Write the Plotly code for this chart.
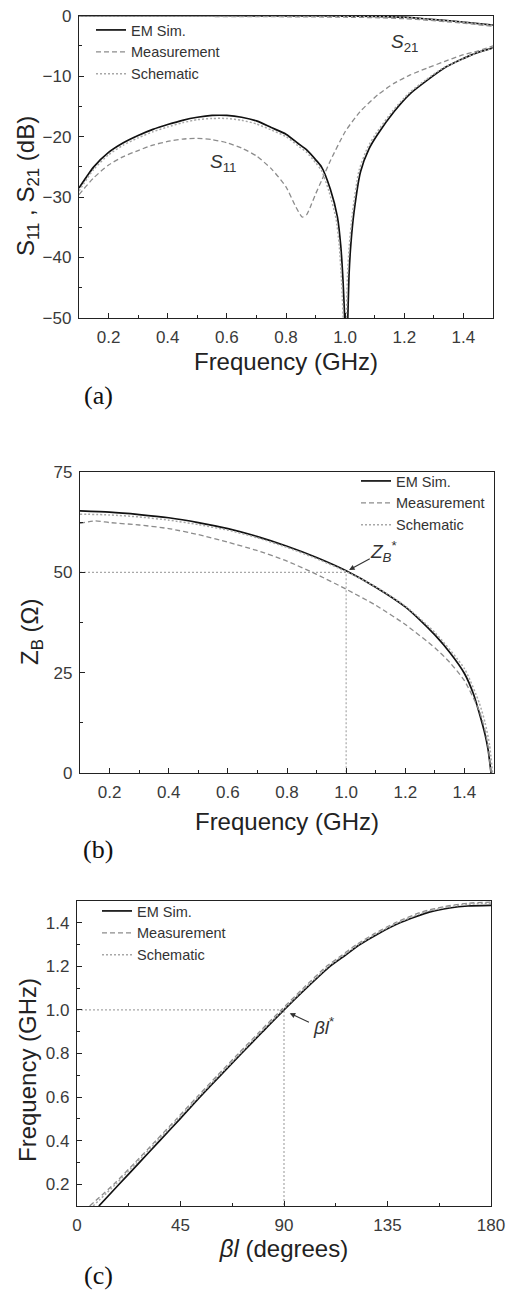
import plotly.graph_objects as go

# ---------------- Panel (a): S-parameters ----------------
f_s11_em = [0.10, 0.15, 0.20, 0.25, 0.30, 0.35, 0.40, 0.45, 0.50, 0.55, 0.60, 0.65, 0.70, 0.75, 0.80,
            0.84, 0.87, 0.90, 0.92, 0.95, 0.974, 0.985, 0.993, 1.000, 1.004, 1.008, 1.013, 1.019, 1.03,
            1.052, 1.081, 1.109, 1.165, 1.221, 1.278, 1.334, 1.39, 1.447, 1.50]
s11_em = [-28.5, -25.0, -22.6, -21.0, -19.8, -18.8, -18.0, -17.3, -16.8, -16.5, -16.5, -16.8, -17.4, -18.5, -19.6,
          -21.1, -22.2, -23.8, -25.0, -28.7, -33.3, -38.0, -44.0, -52.0, -60.0, -52.0, -43.0, -38.0, -32.5,
          -25.8, -22.0, -19.7, -15.9, -12.85, -10.65, -8.7, -7.3, -6.1, -5.3]

f_s11_sch = [0.10, 0.15, 0.20, 0.25, 0.30, 0.35, 0.40, 0.45, 0.50, 0.55, 0.60, 0.65, 0.70, 0.75, 0.80,
             0.84, 0.87, 0.90, 0.92, 0.945, 0.969, 0.980, 0.988, 0.995, 0.999, 1.003, 1.008, 1.014, 1.025,
             1.047, 1.076, 1.104, 1.16, 1.216, 1.273, 1.33, 1.39, 1.447, 1.50]
s11_sch = [-29.0, -25.4, -23.0, -21.4, -20.2, -19.2, -18.4, -17.7, -17.2, -17.0, -17.0, -17.3, -17.9, -18.9, -20.0,
           -21.5, -22.6, -24.3, -25.6, -29.0, -33.5, -38.0, -44.0, -52.0, -60.0, -52.0, -43.0, -38.0, -32.5,
           -25.6, -21.8, -19.5, -15.8, -12.8, -10.6, -8.7, -7.3, -6.1, -5.35]

f_s11_meas = [0.10, 0.15, 0.20, 0.25, 0.30, 0.35, 0.40, 0.45, 0.50, 0.55, 0.60, 0.65, 0.70, 0.75, 0.80,
              0.83, 0.855, 0.87, 0.885, 0.90, 0.92, 0.95, 1.00, 1.05, 1.11, 1.165, 1.22, 1.28, 1.335,
              1.39, 1.45, 1.50]
s11_meas = [-29.6, -26.8, -24.7, -23.3, -22.3, -21.4, -20.8, -20.4, -20.3, -20.5, -21.0, -21.9, -23.2, -25.3, -28.3,
            -31.3, -33.3, -32.9, -31.3, -29.5, -27.3, -24.0, -19.2, -15.9, -13.1, -11.2, -9.8, -8.6, -7.6,
            -6.6, -5.8, -5.0]

f_s21 = [0.10, 0.30, 0.50, 0.70, 0.90, 1.00, 1.10, 1.20, 1.28, 1.39, 1.50]
s21_em = [0.0, 0.0, 0.0, -0.02, -0.04, -0.06, -0.1, -0.25, -0.55, -1.0, -1.55]
s21_sch = [0.0, 0.0, -0.01, -0.03, -0.05, -0.08, -0.12, -0.27, -0.57, -1.02, -1.6]
s21_meas = [-0.05, -0.1, -0.12, -0.15, -0.2, -0.25, -0.32, -0.5, -0.75, -1.2, -1.75]

# ---------------- Panel (b): Bloch impedance ----------------
f_zb_em = [0.10, 0.20, 0.30, 0.40, 0.50, 0.60, 0.70, 0.80, 0.90, 1.00, 1.10, 1.20, 1.25, 1.30, 1.35, 1.40,
           1.43, 1.45, 1.47, 1.48, 1.486, 1.49]
zb_em = [65.3, 65.0, 64.4, 63.6, 62.4, 60.9, 58.9, 56.5, 53.7, 50.4, 46.3, 41.4, 38.1, 34.4, 30.1, 24.8,
         19.8, 15.0, 9.5, 5.8, 2.5, 0.0]
f_zb_meas = [0.10, 0.15, 0.20, 0.30, 0.40, 0.50, 0.60, 0.70, 0.80, 0.90, 1.00, 1.10, 1.20, 1.30, 1.35, 1.40,
             1.45, 1.47, 1.48, 1.49]
zb_meas = [62.2, 62.8, 62.4, 61.8, 60.9, 59.4, 57.5, 55.4, 52.8, 49.5, 45.8, 41.8, 37.0, 31.2, 27.6, 23.0,
           15.5, 10.5, 6.5, 0.0]
f_zb_sch = [0.10, 0.20, 0.30, 0.40, 0.50, 0.60, 0.70, 0.80, 0.90, 1.00, 1.10, 1.20, 1.30, 1.40, 1.45, 1.47,
            1.485, 1.495]
zb_sch = [64.5, 64.3, 63.8, 63.0, 61.9, 60.5, 58.6, 56.2, 53.4, 50.2, 46.4, 41.6, 35.0, 26.0, 17.5, 12.5,
          7.0, 0.0]

# ---------------- Panel (c): dispersion ----------------
bl_em = [9.5, 18.3, 27.2, 36.0, 44.8, 53.4, 62.4, 71.5, 80.7, 90.0, 99.7, 110.0, 116.5, 123.0, 131.0, 140.4,
         153.5, 162.0, 170.0, 180.0]
fc_em = [0.10, 0.20, 0.30, 0.40, 0.50, 0.60, 0.70, 0.80, 0.90, 1.00, 1.10, 1.20, 1.25, 1.30, 1.35, 1.40,
         1.45, 1.468, 1.477, 1.48]
bl_meas = [5.5, 16.0, 25.3, 34.3, 43.3, 52.1, 61.1, 70.2, 79.4, 88.8, 98.4, 108.5, 115.0, 121.5, 129.3, 138.3,
           150.0, 160.0, 170.0, 180.0]
fc_meas = [0.10, 0.20, 0.30, 0.40, 0.50, 0.60, 0.70, 0.80, 0.90, 1.00, 1.10, 1.20, 1.25, 1.30, 1.35, 1.40,
           1.45, 1.475, 1.49, 1.495]
bl_sch = [7.0, 16.8, 26.0, 35.0, 44.0, 52.8, 61.8, 70.9, 80.1, 89.5, 99.1, 109.3, 115.8, 122.3, 130.2, 139.4,
          151.5, 161.0, 170.0, 180.0]
fc_sch = [0.10, 0.20, 0.30, 0.40, 0.50, 0.60, 0.70, 0.80, 0.90, 1.00, 1.10, 1.20, 1.25, 1.30, 1.35, 1.40,
          1.45, 1.472, 1.485, 1.49]

names = ["EM Sim.", "Measurement", "Schematic"]

W, H = 507, 1298
SANS = "Liberation Sans, Arial, sans-serif"
SERIF = "Liberation Serif, Times New Roman, serif"

sty = {
    "EM Sim.": dict(color="#111111", width=1.7, dash="solid", shape="spline", smoothing=0.6),
    "Measurement": dict(color="#8c8c8c", width=1.3, dash="5px,3px", shape="spline", smoothing=0.6),
    "Schematic": dict(color="#a8a8a8", width=1.5, dash="2px,2px", shape="spline", smoothing=0.6),
}

fig = go.Figure()

def add(x, y, name, xa, ya, leg, show):
    fig.add_trace(go.Scatter(x=x, y=y, mode="lines", name=name, line=sty[name],
                             xaxis=xa, yaxis=ya, legend=leg, showlegend=show))

# panel a
add(f_s11_em, s11_em, names[0], "x", "y", "legend", True)
add(f_s11_meas, s11_meas, names[1], "x", "y", "legend", True)
add(f_s11_sch, s11_sch, names[2], "x", "y", "legend", True)
add(f_s21, s21_em, names[0], "x", "y", "legend", False)
add(f_s21, s21_meas, names[1], "x", "y", "legend", False)
add(f_s21, s21_sch, names[2], "x", "y", "legend", False)

# panel b
fig.add_trace(go.Scatter(x=[0.1, 1.0, 1.0], y=[50, 50, 0], mode="lines",
                         line=dict(color="#a8a8a8", width=1.2, dash="2px,2px"),
                         xaxis="x2", yaxis="y2", showlegend=False, hoverinfo="skip"))
add(f_zb_em, zb_em, names[0], "x2", "y2", "legend2", True)
add(f_zb_meas, zb_meas, names[1], "x2", "y2", "legend2", True)
add(f_zb_sch, zb_sch, names[2], "x2", "y2", "legend2", True)

# panel c
fig.add_trace(go.Scatter(x=[0, 90, 90], y=[1.0, 1.0, 0.1], mode="lines",
                         line=dict(color="#a8a8a8", width=1.2, dash="2px,2px"),
                         xaxis="x3", yaxis="y3", showlegend=False, hoverinfo="skip"))
add(bl_em, fc_em, names[0], "x3", "y3", "legend3", True)
add(bl_meas, fc_meas, names[1], "x3", "y3", "legend3", True)
add(bl_sch, fc_sch, names[2], "x3", "y3", "legend3", True)

def px_x(p):
    return p / W

def px_y(p):
    return 1 - p / H

tickfont = dict(family=SANS, size=17, color="#3a3a3a")
titlefont = dict(family=SANS, size=24, color="#222222")

def ax(dom, rng, dtick, minor_dtick, anchor, title, standoff, fmt=None, tick0=None):
    d = dict(domain=dom, range=rng, anchor=anchor, dtick=dtick, ticks="inside", ticklen=5,
             tickwidth=1.2, tickcolor="#222", showline=True, linecolor="#222", linewidth=1.3,
             mirror=True, showgrid=False, zeroline=False, tickfont=tickfont,
             title=dict(text=title, font=titlefont, standoff=standoff), automargin=False,
             minor=dict(dtick=minor_dtick, ticks="inside", ticklen=3, tickcolor="#222", showgrid=False),
             ticklabelstandoff=3)
    if fmt:
        d["tickformat"] = fmt
    if tick0 is not None:
        d["tick0"] = tick0
    return d

legfont = dict(family=SANS, size=14.5, color="#333333")

fig.update_layout(
    width=W, height=H,
    margin=dict(l=0, r=0, t=0, b=0),
    paper_bgcolor="white", plot_bgcolor="white",
    xaxis=ax([px_x(79), px_x(493)], [0.1, 1.5], 0.2, 0.1, "y", "Frequency (GHz)", 7, ".1f", 0.2),
    yaxis=ax([px_y(318), px_y(15.7)], [-50, 0], 10, 5, "x", "", 8),
    xaxis2=ax([px_x(80), px_x(494)], [0.1, 1.5], 0.2, 0.1, "y2", "Frequency (GHz)", 12, ".1f", 0.2),
    yaxis2=ax([px_y(773), px_y(472)], [0, 75], 25, 12.5, "x2", "", 10),
    xaxis3=ax([px_x(77), px_x(491)], [0, 180], 45, 22.5, "y3", "<i>βl</i> (degrees)", 3),
    yaxis3=ax([px_y(1206), px_y(901)], [0.1, 1.5], 0.2, 0.1, "x3", "", 8, ".1f", 0.2),
    legend=dict(x=px_x(91), y=px_y(14), xanchor="left", yanchor="top", bgcolor="rgba(0,0,0,0)",
                font=legfont, tracegroupgap=0, itemwidth=30),
    legend2=dict(x=px_x(356), y=px_y(465), xanchor="left", yanchor="top", bgcolor="rgba(0,0,0,0)",
                 font=legfont, tracegroupgap=0, itemwidth=30),
    legend3=dict(x=px_x(97), y=px_y(895), xanchor="left", yanchor="top", bgcolor="rgba(0,0,0,0)",
                 font=legfont, tracegroupgap=0, itemwidth=30),
    showlegend=True,
)

# y-axis titles (rotated)
for t, xx, yy in [("S<sub>11</sub> , S<sub>21</sub> (dB)", 27, 186),
                  ("Z<sub>B</sub> (Ω)", 31, 632),
                  ("Frequency (GHz)", 27, 1070)]:
    fig.add_annotation(x=px_x(xx), y=px_y(yy), xref="paper", yref="paper", text=t, textangle=-90,
                       showarrow=False, font=titlefont, xanchor="center", yanchor="middle")

ann_font = dict(family=SANS, size=19, color="#333333")
fig.add_annotation(x=1.2, y=-4.5, xref="x", yref="y", text="<i>S</i><sub>21</sub>",
                   showarrow=False, font=ann_font)
fig.add_annotation(x=0.59, y=-24.4, xref="x", yref="y", text="<i>S</i><sub>11</sub>",
                   showarrow=False, font=ann_font)

fig.add_annotation(x=1.01, y=50.6, ax=1.085, ay=53.6, xref="x2", yref="y2", axref="x2", ayref="y2",
                   text="", showarrow=True, arrowhead=2, arrowsize=1, arrowwidth=1.1, arrowcolor="#333")
fig.add_annotation(x=1.125, y=55.3, xref="x2", yref="y2", text="<i>Z</i><sub><i>B</i></sub><sup>*</sup>",
                   showarrow=False, font=ann_font)

fig.add_annotation(x=92.5, y=0.985, ax=101.5, ay=0.94, xref="x3", yref="y3", axref="x3", ayref="y3",
                   text="", showarrow=True, arrowhead=2, arrowsize=1, arrowwidth=1.1, arrowcolor="#333")
fig.add_annotation(x=107, y=0.925, xref="x3", yref="y3", text="<i>βl</i><sup>*</sup>",
                   showarrow=False, font=ann_font)

lab_font = dict(family=SERIF, size=26, color="#111111")
for t, yy in [("(a)", 395), ("(b)", 849), ("(c)", 1275)]:
    fig.add_annotation(x=px_x(98), y=px_y(yy), xref="paper", yref="paper", text=t,
                       showarrow=False, font=lab_font, xanchor="center", yanchor="middle")

fig.write_html("out.html")
